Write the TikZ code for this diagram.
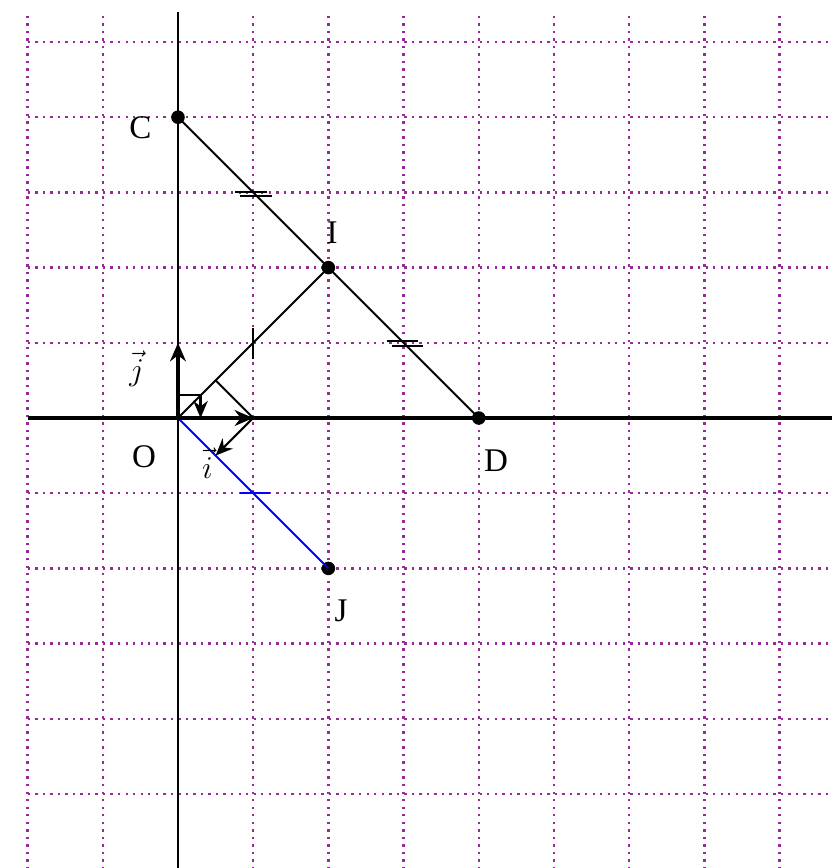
\documentclass[tikz,border=0pt]{standalone}
\usepackage{fontspec}
\setmainfont{Liberation Serif}
\usetikzlibrary{arrows.meta}
\definecolor{gridviolet}{RGB}{150,45,150}
\tikzset{
  griddot/.style={gridviolet,line width=0.9pt,dash pattern=on 0.9pt off 1.95pt},
  pt/.style={circle,fill=black,inner sep=0pt,minimum size=0.18cm},
  seg/.style={line width=0.75pt},
  vect/.style={line width=1.5pt,-{Stealth[length=7pt,width=6pt]}},
  smallvect/.style={line width=0.8pt,-{Stealth[length=6.5pt,width=5.5pt]}},
  lbl/.style={font=\fontsize{12.5}{15}\selectfont}
}
\begin{document}
\begin{tikzpicture}
\useasboundingbox (-2.367,-5.984) rectangle (8.697,5.559);
\clip (-2.367,-5.984) rectangle (8.697,5.559);
% grid and axes
\draw[griddot] (-2,-6) grid (9,5.4);
\draw[line width=1.3pt] (-2,0) -- (9,0);
\draw[line width=0.55pt] (0,-6) -- (0,5.4);
% points
\coordinate (O) at (0,0);
\node[pt] (C) at (0,4) {};
\node[pt] (I) at (2,2) {};
\node[pt] (D) at (4,0) {};
\node[pt] (J) at (2,-2) {};
\draw[seg] (C.center) -- (I.center) -- (D.center);
\draw[seg] (O) -- (I.center);
\draw[seg,blue] (O) -- (J.center);
% unit vectors
\coordinate (U) at (1,0);
\coordinate (V) at (0,1);
\coordinate (M) at (0.5,0.5);
\coordinate (N) at (0.5,-0.5);
\draw[vect] (O) -- (U);
\draw[vect] (O) -- (V);
\draw[seg] (M) -- (U);
\draw[smallvect] (U) -- (N);
% right angle mark
\coordinate (Q) at (0.3,0.3);
\coordinate (R) at (0.3,0);
\draw[seg] (0,0.3) -- (Q);
\draw[smallvect] (Q) -- (R);
% equal marks
\draw[seg] (0.76,3.0) -- (1.18,3.0);
\draw[seg] (0.82,2.95) -- (1.25,2.95);
\draw[seg] (2.78,1.02) -- (3.19,1.02);
\draw[seg] (2.85,0.96) -- (3.26,0.96);
\draw[seg] (1,0.78) -- (1,1.2);
\draw[seg,blue] (0.82,-1) -- (1.22,-1);
% labels
\node[lbl] (lC) at (-0.5,3.86) {C};
\node[lbl] (lI) at (2.05,2.47) {I};
\node[lbl] (lD) at (4.23,-0.57) {D};
\node[lbl] (lJ) at (2.17,-2.56) {J};
\node[lbl] (lO) at (-0.45,-0.52) {O};
\node[lbl] (lj) at (-0.55,0.66) {$\vec{j}$};
\node[lbl] (li) at (0.39,-0.6) {$\vec{i}$};
\end{tikzpicture}
\end{document}
